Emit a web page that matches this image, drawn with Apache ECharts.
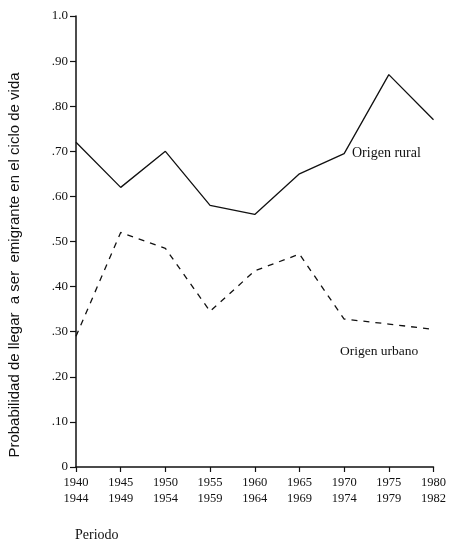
<!DOCTYPE html>
<html><head><meta charset="utf-8">
<script src="https://cdn.jsdelivr.net/npm/echarts@6/dist/echarts.min.js"></script>
<style>html,body{margin:0;padding:0;background:#fff}#c{width:449px;height:546px}</style>
</head><body><div id="c"></div>
<script>
var categories = ['1940\n1944','1945\n1949','1950\n1954','1955\n1959','1960\n1964','1965\n1969','1970\n1974','1975\n1979','1980\n1982'];
var rural = [0.72, 0.62, 0.70, 0.58, 0.56, 0.65, 0.695, 0.87, 0.77];
var urbano = [0.29, 0.52, 0.485, 0.345, 0.435, 0.472, 0.328, 0.317, 0.305];
var yTickLabels = {0:'0',0.1:'.10',0.2:'.20',0.3:'.30',0.4:'.40',0.5:'.50',0.6:'.60',0.7:'.70',0.8:'.80',0.9:'.90',1:'1.0'};
var yTitle = 'Probabilidad de llegar  a ser  emigrante en el ciclo de vida';
var serif = 'Liberation Serif';
var chart = echarts.init(document.getElementById('c'));
chart.setOption({
  animation:false,
  grid:{left:76,right:11,top:16,bottom:79},
  xAxis:{type:'category',data:categories,boundaryGap:false,
    axisLine:{lineStyle:{color:'#111',width:1.5}},
    axisTick:{show:true,length:5,lineStyle:{color:'#111',width:1.2}},
    axisLabel:{color:'#111',fontFamily:serif,fontSize:12.5,lineHeight:16,margin:8,interval:0},
    splitLine:{show:false}},
  yAxis:{type:'value',min:0,max:1,interval:0.1,
    axisLine:{show:true,lineStyle:{color:'#111',width:1.5}},
    axisTick:{show:true,length:6,lineStyle:{color:'#111',width:1.2}},
    axisLabel:{color:'#111',fontFamily:serif,fontSize:13,margin:8,
      formatter:function(v){var k=Math.round(v*10)/10;return yTickLabels[k]!==undefined?yTickLabels[k]:'';}},
    splitLine:{show:false}},
  series:[
    {type:'line',data:rural,symbol:'none',lineStyle:{color:'#111',width:1.3,type:'solid'}},
    {type:'line',data:urbano,symbol:'none',lineStyle:{color:'#111',width:1.3,type:[6,6]}}
  ],
  graphic:[
    {type:'text',x:15,y:265,rotation:Math.PI/2,style:{text:yTitle,fill:'#111',font:'15px "Liberation Sans"',align:'center',verticalAlign:'middle'}},
    {type:'text',left:352,top:146,style:{text:'Origen rural',fill:'#111',font:'14px "Liberation Serif"'}},
    {type:'text',left:340,top:344,style:{text:'Origen urbano',fill:'#111',font:'13.5px "Liberation Serif"'}},
    {type:'text',left:75,top:528,style:{text:'Periodo',fill:'#111',font:'14px "Liberation Serif"'}}
  ]
});
</script></body></html>
